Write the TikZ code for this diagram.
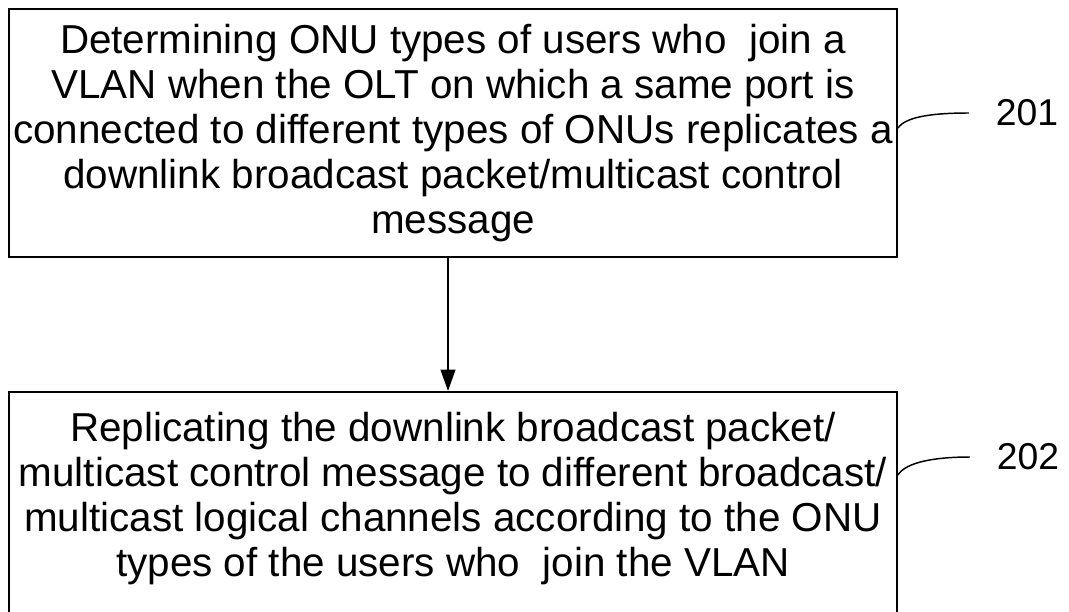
\documentclass[tikz,border=0pt]{standalone}
\usepackage{fontspec}
\setmainfont{Liberation Sans}
\usetikzlibrary{arrows.meta}

\tikzset{stepbox/.style={draw, line width=1.5pt, align=center, inner sep=0pt,
    minimum width=666pt, font=\fontsize{30.3pt}{33.75pt}\selectfont},
  lbl/.style={font=\fontsize{28pt}{30pt}\selectfont, inner sep=0pt},
  lead/.style={line width=1.1pt}}

\begin{document}
\begin{tikzpicture}[x=0.75pt, y=-0.75pt]
  \useasboundingbox (0,0) rectangle (1069,611);
  \node[stepbox, minimum height=186pt] (s201) at (453,133)
    {Determining ONU types of users who~ join a\\
     VLAN when the OLT on which a same port is\\
     connected to different types of ONUs replicates a\\
     downlink broadcast packet/multicast control\\
     message};
  \node[stepbox, minimum height=168pt, text depth=14pt] (s202) at (453,504)
    {Replicating the downlink broadcast packet/\\
     multicast control message to different broadcast/\\
     multicast logical channels according to the ONU\\
     types of the users who~ join the VLAN};
  \draw[line width=1.5pt, -{Triangle[length=16pt, width=11pt]}]
    ([xshift=-3.75pt]s201.south) -- ([xshift=-3.75pt]s202.north);

  \node[lbl] (n201) at (1027,113) {201};
  \node[lbl] (n202) at (1028,457) {202};
  \coordinate (e201) at ([xshift=-20pt]n201.west);
  \coordinate (e202) at ([xshift=-20pt]n202.west);
  \draw[lead] ([yshift=3.75pt]s201.east) .. controls +(6pt,9pt) and +(-25pt,0pt) .. (e201);
  \draw[lead] ([yshift=21.75pt]s202.east) .. controls +(6pt,10pt) and +(-25pt,0pt) .. (e202);
\end{tikzpicture}
\end{document}
